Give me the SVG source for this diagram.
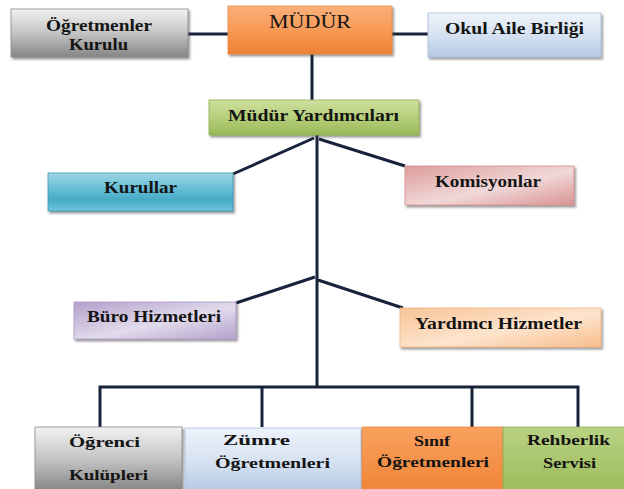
<svg xmlns="http://www.w3.org/2000/svg" width="624" height="489" viewBox="0 0 624 489">
<style>
.t{font-family:"Liberation Serif","Times New Roman",serif;font-weight:bold;font-size:16px;fill:#141414}
.tb{font-size:14px}
.tr{font-weight:normal;font-size:18px}
.ln{stroke:#16233a;stroke-width:3;fill:none;stroke-linecap:butt}
.box{filter:url(#sh);stroke-width:0.8}
</style>
<defs>
<filter id="sh" x="-10%" y="-20%" width="125%" height="160%">
<feDropShadow dx="1.5" dy="2" stdDeviation="1" flood-color="#3a3a3a" flood-opacity="0.55"/>
</filter>
<linearGradient id="gGrey" x1="0" y1="0" x2="0" y2="1"><stop offset="0" stop-color="#f2f2f2"/><stop offset="0.5" stop-color="#c4c4c4"/><stop offset="1" stop-color="#858585"/></linearGradient>
<linearGradient id="gOrange" x1="0" y1="0" x2="0" y2="1"><stop offset="0" stop-color="#fab07a"/><stop offset="0.6" stop-color="#f7954e"/><stop offset="1" stop-color="#ef8232"/></linearGradient>
<linearGradient id="gBlue" x1="0" y1="0" x2="0" y2="1"><stop offset="0" stop-color="#eef3fa"/><stop offset="0.5" stop-color="#d6e2f1"/><stop offset="1" stop-color="#b4c9e4"/></linearGradient>
<linearGradient id="gGreen" x1="0" y1="0" x2="0" y2="1"><stop offset="0" stop-color="#cfe09e"/><stop offset="0.6" stop-color="#b0cb73"/><stop offset="1" stop-color="#98b957"/></linearGradient>
<linearGradient id="gCyan" x1="0" y1="0" x2="0" y2="1"><stop offset="0" stop-color="#9dd6e6"/><stop offset="0.45" stop-color="#61bcd4"/><stop offset="0.7" stop-color="#48aac6"/><stop offset="1" stop-color="#6ec3da"/></linearGradient>
<linearGradient id="gPink" x1="0" y1="0" x2="1" y2="1"><stop offset="0" stop-color="#dd9c9b"/><stop offset="0.55" stop-color="#f1d8d8"/><stop offset="1" stop-color="#d99393"/></linearGradient>
<linearGradient id="gPurple" x1="0" y1="0" x2="1" y2="1"><stop offset="0" stop-color="#b29fca"/><stop offset="0.55" stop-color="#e2dbec"/><stop offset="1" stop-color="#b4a2cc"/></linearGradient>
<linearGradient id="gPeach" x1="0" y1="0" x2="1" y2="1"><stop offset="0" stop-color="#f9c497"/><stop offset="0.55" stop-color="#fde4ce"/><stop offset="1" stop-color="#f8bd8b"/></linearGradient>
<linearGradient id="gBlue2" x1="0" y1="0" x2="0" y2="1"><stop offset="0" stop-color="#eef3fa"/><stop offset="0.6" stop-color="#d3dff0"/><stop offset="1" stop-color="#b4c9e4"/></linearGradient>
<linearGradient id="gOrange2" x1="0" y1="0" x2="0" y2="1"><stop offset="0" stop-color="#f9a15f"/><stop offset="1" stop-color="#f08536"/></linearGradient>
<linearGradient id="gGreen2" x1="0" y1="0" x2="0" y2="1"><stop offset="0" stop-color="#b9d283"/><stop offset="1" stop-color="#9cbc5c"/></linearGradient>
</defs>

<g id="connectors">
<line class="ln" x1="188" y1="34" x2="228" y2="34"/>
<line class="ln" x1="392" y1="34" x2="428" y2="34"/>
<line class="ln" x1="312" y1="54" x2="312" y2="100"/>
<line class="ln" x1="317" y1="135" x2="317" y2="388"/>
<line class="ln" x1="314" y1="138" x2="233" y2="174"/>
<line class="ln" x1="319" y1="139" x2="405" y2="166"/>
<line class="ln" x1="315" y1="277" x2="236" y2="303"/>
<line class="ln" x1="318" y1="280" x2="403" y2="308"/>
<polyline class="ln" points="100,427 100,387 578,387 578,427"/>
<line class="ln" x1="262" y1="387" x2="262" y2="427"/>
<line class="ln" x1="472" y1="387" x2="472" y2="427"/>
</g>

<g id="ogretmenler-kurulu">
<rect class="box" x="11" y="9" width="177" height="48" fill="url(#gGrey)" stroke="#8a8a8a"/>
<text class="t" x="46" y="31" textLength="106" lengthAdjust="spacingAndGlyphs">Öğretmenler</text>
<text class="t" x="69" y="50" textLength="59" lengthAdjust="spacingAndGlyphs">Kurulu</text>
</g>

<g id="mudur">
<rect class="box" x="228" y="6" width="164" height="48" fill="url(#gOrange)" stroke="#e98a45"/>
<text class="t tr" x="269" y="28" textLength="82" lengthAdjust="spacingAndGlyphs">MÜDÜR</text>
</g>

<g id="okul-aile-birligi">
<rect class="box" x="428" y="13" width="173" height="44" fill="url(#gBlue)" stroke="#a9bedb"/>
<text class="t" x="445" y="34" textLength="139" lengthAdjust="spacingAndGlyphs">Okul Aile Birliği</text>
</g>

<g id="mudur-yardimcilari">
<rect class="box" x="209" y="100" width="210" height="35" fill="url(#gGreen)" stroke="#8fae52"/>
<text class="t" x="228" y="121" textLength="171" lengthAdjust="spacingAndGlyphs">Müdür Yardımcıları</text>
</g>

<g id="kurullar">
<rect class="box" x="48" y="173" width="185" height="38" fill="url(#gCyan)" stroke="#3e9ab4"/>
<text class="t" x="104" y="193" textLength="73" lengthAdjust="spacingAndGlyphs">Kurullar</text>
</g>

<g id="komisyonlar">
<rect class="box" x="405" y="166" width="169" height="39" fill="url(#gPink)" stroke="#d59090"/>
<text class="t" x="435" y="187" textLength="106" lengthAdjust="spacingAndGlyphs">Komisyonlar</text>
</g>

<g id="buro-hizmetleri">
<rect class="box" x="74" y="302" width="162" height="37" fill="url(#gPurple)" stroke="#ab98c4"/>
<text class="t" x="87" y="322" textLength="134" lengthAdjust="spacingAndGlyphs">Büro Hizmetleri</text>
</g>

<g id="yardimci-hizmetler">
<rect class="box" x="400" y="308" width="201" height="39" fill="url(#gPeach)" stroke="#f2b583"/>
<text class="t" x="415" y="329" textLength="167" lengthAdjust="spacingAndGlyphs">Yardımcı Hizmetler</text>
</g>

<g id="ogrenci-kulupleri">
<rect class="box" x="35" y="427" width="147" height="64" fill="url(#gGrey)" stroke="#8a8a8a"/>
<text class="t tb" x="69" y="447" textLength="71" lengthAdjust="spacingAndGlyphs">Öğrenci</text>
<text class="t tb" x="69" y="480" textLength="79" lengthAdjust="spacingAndGlyphs">Kulüpleri</text>
</g>

<g id="zumre-ogretmenleri">
<rect class="box" x="185" y="428" width="176" height="63" fill="url(#gBlue2)" stroke="#a9bedb"/>
<text class="t tb" x="223" y="445" textLength="67" lengthAdjust="spacingAndGlyphs">Zümre</text>
<text class="t tb" x="215" y="468" textLength="115" lengthAdjust="spacingAndGlyphs">Öğretmenleri</text>
</g>

<g id="sinif-ogretmenleri">
<rect class="box" x="362" y="427" width="141" height="64" fill="url(#gOrange2)" stroke="#e98a45"/>
<text class="t tb" x="414" y="446" textLength="36" lengthAdjust="spacingAndGlyphs">Sınıf</text>
<text class="t tb" x="377" y="467" textLength="112" lengthAdjust="spacingAndGlyphs">Öğretmenleri</text>
</g>

<g id="rehberlik-servisi">
<rect class="box" x="503" y="427" width="122" height="64" fill="url(#gGreen2)" stroke="#8fae52"/>
<text class="t tb" x="527" y="445" textLength="83" lengthAdjust="spacingAndGlyphs">Rehberlik</text>
<text class="t tb" x="543" y="468" textLength="53" lengthAdjust="spacingAndGlyphs">Servisi</text>
</g>
</svg>
